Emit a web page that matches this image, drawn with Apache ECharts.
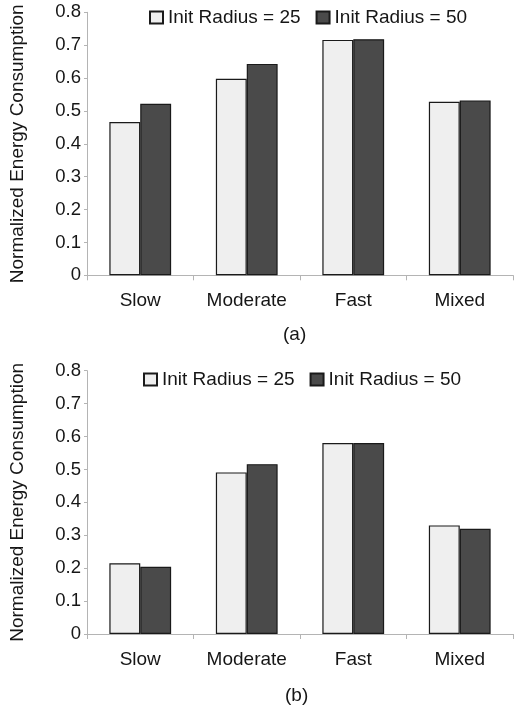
<!DOCTYPE html>
<html>
<head>
<meta charset="utf-8">
<script src="https://cdn.jsdelivr.net/npm/echarts@6/dist/echarts.min.js"></script>
<style>
html,body{margin:0;padding:0;background:#fff;}
#c{width:514px;height:710px;}
</style>
</head>
<body>
<div id="c"></div>
<script>
var categories = ['Slow', 'Moderate', 'Fast', 'Mixed'];
var seriesNames = ['Init Radius = 25', 'Init Radius = 50'];
var radius25A = [0.466, 0.598, 0.716, 0.528];
var radius50A = [0.522, 0.643, 0.718, 0.532];
var radius25B = [0.215, 0.491, 0.580, 0.330];
var radius50B = [0.204, 0.516, 0.580, 0.320];
var yTicks = [0, 0.1, 0.2, 0.3, 0.4, 0.5, 0.6, 0.7, 0.8];
var yName = 'Normalized Energy Consumption';
var panelLabels = ['(a)', '(b)'];

var FONT = '"Liberation Sans", Arial, Helvetica, sans-serif';
var TXT = '#161616';
var AX = '#b4b4b4';
var LIGHT = '#efefef';
var DARK = '#4a4a4a';

function xAxis(i) {
  return {
    type: 'category', gridIndex: i, data: categories,
    axisLine: {lineStyle: {color: AX, width: 1}},
    axisTick: {show: true, length: 5, lineStyle: {color: AX}, alignWithLabel: false},
    axisLabel: {color: TXT, fontFamily: FONT, fontSize: 19, margin: 16}
  };
}
function yAxis(i) {
  return {
    type: 'value', gridIndex: i, min: yTicks[0], max: yTicks[yTicks.length - 1], interval: 0.1,
    name: yName, nameLocation: 'middle', nameRotate: 90, nameGap: 60,
    nameTextStyle: {color: TXT, fontFamily: FONT, fontSize: 19},
    axisLine: {show: true, lineStyle: {color: AX, width: 1}},
    axisTick: {show: true, length: 3, lineStyle: {color: AX}},
    splitLine: {show: false},
    axisLabel: {color: TXT, fontFamily: FONT, fontSize: 18.5, margin: 6,
      formatter: function (v) { return String(Math.round(v * 10) / 10); }}
  };
}
function bar(name, data, i, color) {
  return {
    type: 'bar', name: name, data: data, xAxisIndex: i, yAxisIndex: i,
    barGap: '0%', barCategoryGap: '42%',
    itemStyle: {color: color, borderColor: '#1a1a1a', borderWidth: 1.2},
    emphasis: {disabled: true}
  };
}
function legend(left, top) {
  return {
    left: left, top: top, padding: 0, data: seriesNames, itemWidth: 13, itemHeight: 12, itemGap: 15,
    icon: 'rect',
    textStyle: {color: TXT, fontFamily: FONT, fontSize: 19},
    selectedMode: false
  };
}

var chart = echarts.init(document.getElementById('c'), null, {renderer: 'canvas'});
chart.setOption({
  animation: false,
  backgroundColor: '#fff',
  legend: [legend(149, 8), legend(143, 370)],
  grid: [
    {left: 87, top: 12.3, width: 426, height: 263},
    {left: 87, top: 370.7, width: 426, height: 263.3}
  ],
  xAxis: [xAxis(0), xAxis(1)],
  yAxis: [yAxis(0), yAxis(1)],
  series: [
    bar(seriesNames[0], radius25A, 0, LIGHT),
    bar(seriesNames[1], radius50A, 0, DARK),
    bar(seriesNames[0], radius25B, 1, LIGHT),
    bar(seriesNames[1], radius50B, 1, DARK)
  ],
  graphic: [
    {type: 'text', left: 283, top: 325, style: {text: panelLabels[0], fill: TXT, font: '19px ' + FONT}},
    {type: 'text', left: 285, top: 686, style: {text: panelLabels[1], fill: TXT, font: '19px ' + FONT}}
  ]
});
</script>
</body>
</html>
